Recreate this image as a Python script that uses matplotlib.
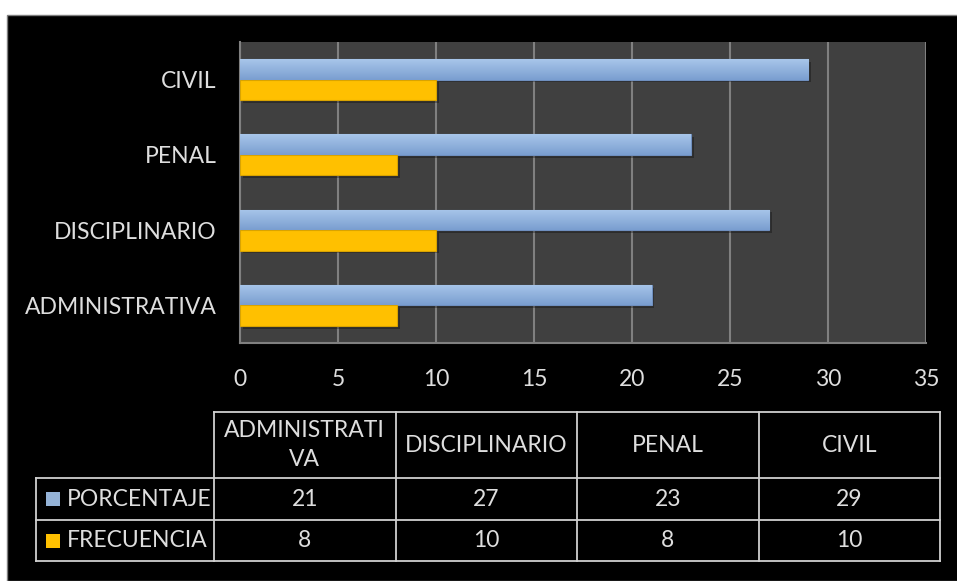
import numpy as np
import matplotlib.pyplot as plt
import matplotlib.patheffects as pe
from matplotlib.patches import Rectangle

plt.rcParams['font.family'] = ['Lato', 'DejaVu Sans']

categorias = ['ADMINISTRATIVA', 'DISCIPLINARIO', 'PENAL', 'CIVIL']
encabezados = ['ADMINISTRATI\nVA', 'DISCIPLINARIO', 'PENAL', 'CIVIL']
porcentaje = [21, 27, 23, 29]
frecuencia = [8, 10, 8, 10]
series = ['PORCENTAJE', 'FRECUENCIA']

W, H = 957, 581
txt = '#dedede'
azul = '#95b3d7'
oro = '#ffc000'
fs = 16.5

fig = plt.figure(figsize=(W / 100, H / 100), dpi=100, facecolor='white')

# fondo negro del grafico
fig.patches.append(Rectangle((7 / W, 0), 1, (H - 15) / H, transform=fig.transFigure,
                             facecolor='black', edgecolor='#7f7f7f', lw=1, zorder=-1))

ax = fig.add_axes([240 / W, (H - 343) / H, (926 - 240) / W, (343 - 42) / H])
ax.set_facecolor('#404040')

y = np.arange(len(categorias))
h = 0.273
grad = np.linspace(0, 1, 50).reshape(-1, 1)
cmap_azul = plt.matplotlib.colors.LinearSegmentedColormap.from_list('az', ['#7a9ed0', '#a8c6ea'])

sombra = [pe.SimplePatchShadow(offset=(2, -2), alpha=0.3, shadow_rgbFace='black'), pe.Normal()]
b1 = ax.barh(y + h / 2, porcentaje, height=h, color=azul, edgecolor='#6f8fbf', lw=0.8,
             zorder=3, path_effects=sombra)
b2 = ax.barh(y - h / 2, frecuencia, height=h, color=oro, edgecolor='#d9a300', lw=0.8,
             zorder=3, path_effects=sombra)
for bar in b1:
    x0, y0 = bar.get_x(), bar.get_y()
    im = ax.imshow(grad, extent=(x0, x0 + bar.get_width(), y0, y0 + bar.get_height()),
                   origin='lower', cmap=cmap_azul, aspect='auto', zorder=3.5)
    im.set_clip_path(bar)

ax.set_xlim(0, 35)
ax.set_ylim(-0.5, 3.5)
ax.set_xticks(range(0, 36, 5))
ax.set_yticks(y)
ax.set_yticklabels(categorias)
ax.grid(axis='x', color='#808080', lw=1.5, zorder=1)
ax.tick_params(axis='x', length=0, pad=19, labelsize=fs, labelcolor=txt)
ax.tick_params(axis='y', length=0, pad=17, labelsize=fs, labelcolor=txt)
for s in ['top', 'right']:
    ax.spines[s].set_visible(False)
for s in ['left', 'bottom']:
    ax.spines[s].set_color('#808080')
    ax.spines[s].set_linewidth(1.5)

# tabla de datos
tx = fig.add_axes([0, 0, 1, 1])
tx.set_xlim(0, W)
tx.set_ylim(H, 0)
tx.axis('off')
tx.patch.set_alpha(0)

x_ini, ancho = 214, 181.5
col_x = [x_ini + i * ancho for i in range(len(categorias) + 1)]
filas = [412, 478, 520, 561]
lc = dict(color='#d0d0d0', lw=1.3)

tx.plot([col_x[0], col_x[-1]], [filas[0]] * 2, **lc)
for yy in filas[1:]:
    tx.plot([36, col_x[-1]], [yy, yy], **lc)
for xx in col_x:
    tx.plot([xx, xx], [filas[0], filas[-1]], **lc)
tx.plot([36, 36], [filas[1], filas[-1]], **lc)

for i, e in enumerate(encabezados):
    tx.text((col_x[i] + col_x[i + 1]) / 2, (filas[0] + filas[1]) / 2, e, ha='center',
            va='center', color=txt, fontsize=fs, linespacing=1.45)

valores = [porcentaje, frecuencia]
colores = [azul, oro]
for r, (nombre, vals, c) in enumerate(zip(series, valores, colores)):
    yc = (filas[r + 1] + filas[r + 2]) / 2
    tx.add_patch(Rectangle((46, yc - 7), 14, 14, facecolor=c, edgecolor='none'))
    tx.text(67, yc, nombre, ha='left', va='center', color=txt, fontsize=fs)
    for i, v in enumerate(vals):
        tx.text((col_x[i] + col_x[i + 1]) / 2, yc, str(v), ha='center', va='center',
                color=txt, fontsize=fs)

fig.savefig('out.png', dpi=100, facecolor='white')
